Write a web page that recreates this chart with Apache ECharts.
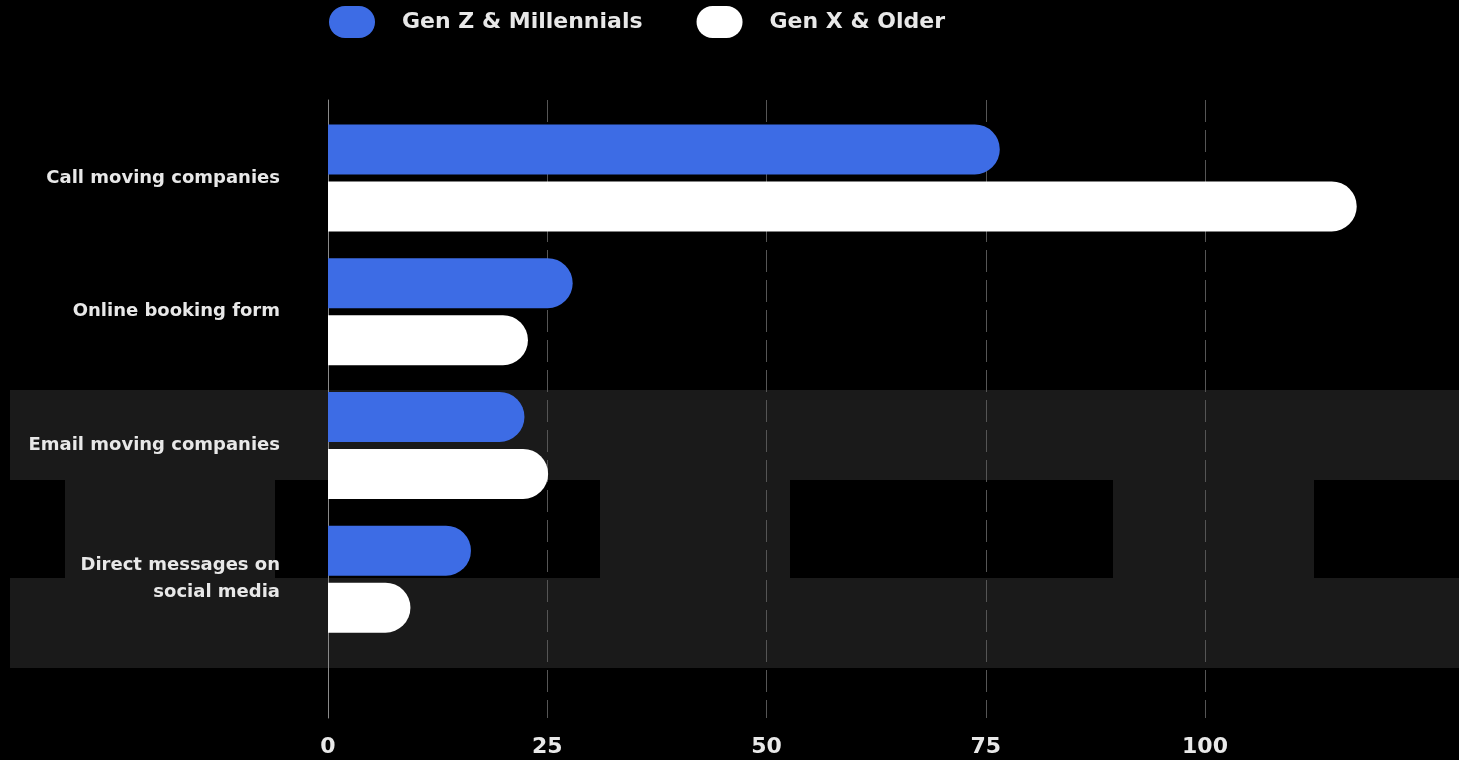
<!DOCTYPE html>
<html>
<head>
<meta charset="utf-8">
<title>Ways to contact moving companies</title>
<script src="https://cdn.jsdelivr.net/npm/echarts@6/dist/echarts.min.js"></script>
<style>
  html, body { margin: 0; padding: 0; background: #000; }
  #chart { width: 1459px; height: 760px; }
</style>
</head>
<body>
<div id="chart"></div>
<script>
// Contact methods, top to bottom
const categories = [
  'Call moving companies',
  'Online booking form',
  'Email moving companies',
  'Direct messages on\nsocial media'
];
const seriesNames = ['Gen Z & Millennials', 'Gen X & Older'];
const genZMillennials = [76.6, 27.9, 22.4, 16.3];
const genXOlder = [117.3, 22.8, 25.1, 9.4];
const xTicks = [0, 25, 50, 75, 100];

const BLUE = '#3d6ce5';
const WHITE = '#ffffff';
const TEXT = '#e8e8e8';
const FONT = '"DejaVu Sans", sans-serif';

// pixels per unit along the value axis (25 units per 219.25 px)
const unitPx = 219.25 / 25;
const plotLeft = 328;

const chart = echarts.init(document.getElementById('chart'), null, { renderer: 'canvas' });

// capsule shaped legend icon
const pill = 'path://M16,0 L30,0 A16,16 0 0 1 30,32 L16,32 A16,16 0 0 1 16,0 Z';

// decorative page background blocks behind the plot
const bandFill = '#1a1a1a';
const bands = [
  [10, 390, 1449, 90],
  [65, 480, 210, 98],
  [600, 480, 190, 98],
  [1113, 480, 201, 98],
  [10, 578, 1449, 90]
];

const option = {
  backgroundColor: '#000',
  animation: false,
  graphic: bands.map(b => ({
    type: 'rect',
    z: -10,
    silent: true,
    shape: { x: b[0], y: b[1], width: b[2], height: b[3] },
    style: { fill: bandFill }
  })),
  legend: {
    data: seriesNames,
    left: 329,
    top: 6,
    padding: 0,
    icon: pill,
    itemWidth: 46,
    itemHeight: 32,
    itemGap: 54,
    textStyle: {
      color: TEXT,
      fontFamily: FONT,
      fontSize: 22,
      fontWeight: 'bold',
      padding: [0, 0, 0, 22]
    }
  },
  grid: [
    // bars
    { left: plotLeft, top: 111, width: 125 * unitPx, bottom: 114, containLabel: false },
    // value scale, split lines and tick labels
    { left: plotLeft, top: 100, width: 100 * unitPx, height: 618, containLabel: false }
  ],
  xAxis: [
    {
      gridIndex: 0, type: 'value', min: 0, max: 125, show: false
    },
    {
      gridIndex: 1, type: 'value', min: xTicks[0], max: xTicks[xTicks.length - 1], interval: 25,
      axisLine: { show: false },
      axisTick: { show: false },
      axisLabel: {
        color: TEXT, fontFamily: FONT, fontSize: 22, fontWeight: 'bold', margin: 18,
        showMaxLabel: true, showMinLabel: true
      },
      splitLine: {
        show: true,
        lineStyle: { color: '#555555', width: 1, type: [22, 8] }
      }
    }
  ],
  yAxis: [
    {
      gridIndex: 0, type: 'category', data: categories, inverse: true,
      axisLine: { show: false },
      axisTick: { show: false },
      axisLabel: {
        color: TEXT, fontFamily: FONT, fontSize: 18, fontWeight: 'bold',
        margin: 48, align: 'right', lineHeight: 27
      }
    },
    {
      gridIndex: 1, type: 'value', min: 0, max: 1,
      axisLine: { show: true, lineStyle: { color: '#8a8a8a', width: 1 } },
      axisTick: { show: false },
      axisLabel: { show: false },
      splitLine: { show: false }
    }
  ],
  series: [
    {
      name: seriesNames[0], type: 'bar', xAxisIndex: 0, yAxisIndex: 0,
      data: genZMillennials, barWidth: 50, barGap: '14%',
      itemStyle: { color: BLUE, borderRadius: [0, 25, 25, 0] }, z: 3
    },
    {
      name: seriesNames[1], type: 'bar', xAxisIndex: 0, yAxisIndex: 0,
      data: genXOlder, barWidth: 50, barGap: '14%',
      itemStyle: { color: WHITE, borderRadius: [0, 25, 25, 0] }, z: 3
    }
  ]
};

chart.setOption(option);
</script>
</body>
</html>
